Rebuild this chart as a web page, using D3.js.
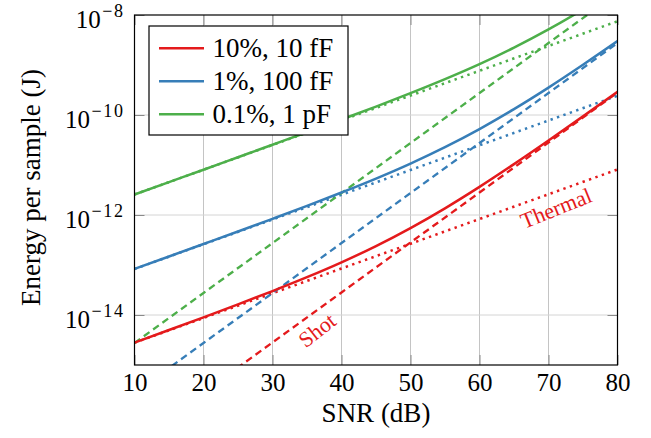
<!DOCTYPE html>
<html>
<head>
<meta charset="utf-8">
<script src="https://cdn.jsdelivr.net/npm/d3@7"></script>
<style>
  html, body { margin: 0; padding: 0; background: #fff; }
  svg { display: block; }
</style>
</head>
<body>
<svg id="chart" width="651" height="438"></svg>
<script>
// ---------- data ----------
const snrFine = [10, 15, 20, 25, 30, 35, 40, 45, 50, 55, 60, 65, 70, 75, 80];
const snrCoarse = [10, 20, 30, 40, 50, 60, 70, 80];

// total energy (solid lines), J
const totalRed   = [2.81e-15, 5.01e-15, 8.99e-15, 1.63e-14, 3.01e-14, 5.70e-14, 1.13e-13, 2.39e-13, 5.48e-13, 1.36e-12, 3.65e-12, 1.04e-11, 3.08e-11, 9.38e-11, 2.90e-10];
const totalBlue  = [8.34e-14, 1.48e-13, 2.63e-13, 4.68e-13, 8.39e-13, 1.52e-12, 2.82e-12, 5.36e-12, 1.07e-11, 2.28e-11, 5.24e-11, 1.31e-10, 3.53e-10, 1.01e-9, 3.00e-9];
const totalGreen = [2.57e-12, 4.55e-12, 8.05e-12, 1.43e-11, 2.54e-11, 4.52e-11, 8.13e-11, 1.47e-10, 2.73e-10, 5.21e-10, 1.04e-9, 2.23e-9, 5.15e-9, 1.29e-8, 3.51e-8];

// thermal-limited energy (dotted lines), J
const thermalRed   = [2.79e-15, 8.71e-15, 2.72e-14, 8.51e-14, 2.66e-13, 8.32e-13, 2.60e-12, 8.13e-12];
const thermalBlue  = [8.32e-14, 2.60e-13, 8.13e-13, 2.54e-12, 7.94e-12, 2.48e-11, 7.76e-11, 2.43e-10];
const thermalGreen = [2.57e-12, 8.04e-12, 2.51e-11, 7.85e-11, 2.45e-10, 7.67e-10, 2.40e-9, 7.50e-9];

// shot-limited energy (dashed lines), J
const shotRed   = [2.82e-17, 2.82e-16, 2.82e-15, 2.82e-14, 2.82e-13, 2.82e-12, 2.82e-11, 2.82e-10];
const shotBlue  = [2.75e-16, 2.75e-15, 2.75e-14, 2.75e-13, 2.75e-12, 2.75e-11, 2.75e-10, 2.75e-9];
const shotGreen = [2.75e-15, 2.75e-14, 2.75e-13, 2.75e-12, 2.75e-11, 2.75e-10, 2.75e-9, 2.75e-8];

const seriesNames = ["10%, 10 fF", "1%, 100 fF", "0.1%, 1 pF"];
const seriesColors = ["#e41a1c", "#377eb8", "#4daf4a"];

const xTicks = [10, 20, 30, 40, 50, 60, 70, 80];
const yTicks = [1e-14, 1e-12, 1e-10, 1e-8];
const yTickExp = ["\u221214", "\u221212", "\u221210", "\u22128"];

const xTitle = "SNR (dB)";
const yTitle = "Energy per sample (J)";
const labelShot = "Shot";
const labelThermal = "Thermal";

// ---------- layout ----------
const FONT = "Liberation Serif";
const L = 134.5, R = 617.5, T = 15, B = 365;
const svg = d3.select("#chart");

const x = d3.scaleLinear().domain([10, 80]).range([L, R]);
const y = d3.scaleLog().domain([1e-15, 1e-8]).range([B, T]);

// grid
const grid = svg.append("g");
grid.selectAll("line.gx").data(xTicks.slice(1, -1)).enter().append("line")
  .attr("x1", d => x(d)).attr("x2", d => x(d)).attr("y1", T).attr("y2", B)
  .attr("stroke", "#c4c4c4").attr("stroke-width", 1);
grid.selectAll("line.gy").data(yTicks.slice(0, -1)).enter().append("line")
  .attr("x1", L).attr("x2", R).attr("y1", d => y(d)).attr("y2", d => y(d))
  .attr("stroke", "#d4d4d4").attr("stroke-width", 1);

// inner ticks (all four sides) through axes
const tickLen = 10;
const axB = svg.append("g").attr("transform", `translate(0,${B})`)
  .call(d3.axisBottom(x).tickValues(xTicks).tickSizeInner(-tickLen).tickSizeOuter(0).tickPadding(8.5));
const axT = svg.append("g").attr("transform", `translate(0,${T})`)
  .call(d3.axisTop(x).tickValues(xTicks).tickSizeInner(-tickLen).tickSizeOuter(0).tickFormat(""));
const axL = svg.append("g").attr("transform", `translate(${L},0)`)
  .call(d3.axisLeft(y).tickValues(yTicks).tickSizeInner(-tickLen).tickSizeOuter(0).tickPadding(10).tickFormat(""));
const axR = svg.append("g").attr("transform", `translate(${R},0)`)
  .call(d3.axisRight(y).tickValues(yTicks).tickSizeInner(-tickLen).tickSizeOuter(0).tickFormat(""));
[axB, axT, axL, axR].forEach(a => {
  a.attr("font-family", FONT).attr("font-size", 25);
  a.select(".domain").remove();
  a.selectAll(".tick line").attr("stroke", "#8a8a8a").attr("stroke-width", 1);
});
axB.selectAll(".tick text").attr("fill", "#000");

// y tick labels with superscript
axL.selectAll(".tick text").each(function(d) {
  const t = d3.select(this);
  t.text(null).attr("dy", "0.49em").attr("fill", "#000").attr("text-anchor", "end");
  t.append("tspan").text("10");
  t.append("tspan").attr("dy", -10.5).attr("dx", 1.5).attr("font-size", 18)
    .attr("letter-spacing", 1.6).text(yTickExp[yTicks.indexOf(d)]);
});

// clip
svg.append("clipPath").attr("id", "clip").append("rect")
  .attr("x", L).attr("y", T).attr("width", R - L).attr("height", B - T);
const plot = svg.append("g").attr("clip-path", "url(#clip)");

const lineLin = d3.line().x(d => x(d[0])).y(d => y(d[1]));
const lineSmooth = d3.line().x(d => x(d[0])).y(d => y(d[1])).curve(d3.curveMonotoneX);
const zip = (xs, ys) => xs.map((v, i) => [v, ys[i]]);

const thermal = [thermalRed, thermalBlue, thermalGreen];
const shot = [shotRed, shotBlue, shotGreen];
const total = [totalRed, totalBlue, totalGreen];

for (let i = 0; i < 3; i++) {
  plot.append("path").datum(zip(snrCoarse, shot[i])).attr("d", lineLin)
    .attr("fill", "none").attr("stroke", seriesColors[i]).attr("stroke-width", 2.3)
    .attr("stroke-dasharray", "7,4.5");
  plot.append("path").datum(zip(snrCoarse, thermal[i])).attr("d", lineLin)
    .attr("fill", "none").attr("stroke", seriesColors[i]).attr("stroke-width", 2.5)
    .attr("stroke-dasharray", "2.4,4.4");
}
for (let i = 0; i < 3; i++) {
  plot.append("path").datum(zip(snrFine, total[i])).attr("d", lineSmooth)
    .attr("fill", "none").attr("stroke", seriesColors[i]).attr("stroke-width", 2.5);
}

// annotations
svg.append("text").text(labelShot)
  .attr("transform", "translate(317,330) rotate(-38)")
  .attr("text-anchor", "middle").attr("dy", "0.35em")
  .attr("font-family", FONT).attr("font-size", 22).attr("fill", seriesColors[0]);
svg.append("text").text(labelThermal)
  .attr("transform", "translate(556,208) rotate(-22)")
  .attr("text-anchor", "middle").attr("dy", "0.35em")
  .attr("font-family", FONT).attr("font-size", 22).attr("fill", seriesColors[0]);

// frame
svg.append("rect").attr("x", L).attr("y", T).attr("width", R - L).attr("height", B - T)
  .attr("fill", "none").attr("stroke", "#000").attr("stroke-width", 1.2);

// legend
const lg = svg.append("g");
lg.append("rect").attr("x", 149).attr("y", 26).attr("width", 199).attr("height", 109)
  .attr("fill", "#fff").attr("stroke", "#000").attr("stroke-width", 1.2);
seriesNames.forEach((name, i) => {
  const cy = 48.3 + i * 33;
  lg.append("line").attr("x1", 159).attr("x2", 204).attr("y1", cy).attr("y2", cy)
    .attr("stroke", seriesColors[i]).attr("stroke-width", 2.5);
  lg.append("text").attr("x", 212.5).attr("y", cy + 8.5).text(name)
    .attr("font-family", FONT).attr("font-size", 27).attr("fill", "#000");
});

// axis titles
svg.append("text").text(xTitle).attr("x", (L + R) / 2).attr("y", 422)
  .attr("text-anchor", "middle")
  .attr("font-family", FONT).attr("font-size", 27).attr("fill", "#000");
svg.append("text").text(yTitle)
  .attr("transform", "translate(39.5,187.5) rotate(-90)")
  .attr("text-anchor", "middle")
  .attr("font-family", FONT).attr("font-size", 27).attr("fill", "#000");
</script>
</body>
</html>
